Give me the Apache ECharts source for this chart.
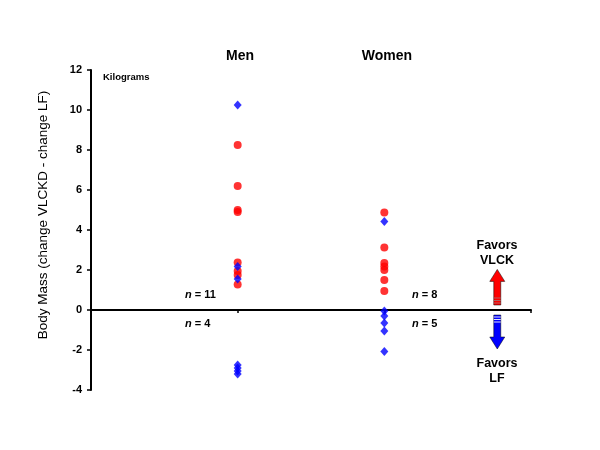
<!DOCTYPE html>
<html>
<head>
<meta charset="utf-8">
<script src="https://cdn.jsdelivr.net/npm/echarts@6/dist/echarts.min.js"></script>
<style>html,body{margin:0;padding:0;background:#fff;}#c{width:600px;height:450px;}</style>
</head>
<body>
<div id="c"></div>
<script>
// Group positions on the value x-axis
const groupX = { Men: 1, Women: 2 };
// Men values (kg): red circles and blue diamonds
const menRed = [8.25, 6.2, 5.0, 4.9, 2.38, 1.95, 1.75, 1.28];
const menBlue = [10.25, 2.17, 1.55, -2.75, -2.9, -3.05, -3.2];
// Women values (kg)
const womenRed = [4.87, 3.13, 2.35, 2.17, 2.0, 1.5, 0.95];
const womenBlue = [4.42, -0.05, -0.3, -0.65, -1.05, -2.08];
// Arrow annotations: [x, tail, tip]
const arrowX = 2.77;
const arrowUp = [0.25, 2.03];
const arrowDown = [-0.25, -1.95];
// Y tick settings
const yMin = -4, yMax = 12, yStep = 2;

const FONT = '"Liberation Sans", Arial, sans-serif';
const chart = echarts.init(document.getElementById('c'), null, { renderer: 'canvas' });

function pts(x, arr) { return arr.map(v => [x, v]); }

function arrowRender(params, api) {
  const x = api.value(0), t = api.value(1), h = api.value(2), ci = api.value(3);
  const p0 = api.coord([x, t]);
  const p1 = api.coord([x, h]);
  const dir = p1[1] < p0[1] ? -1 : 1;
  const headLen = 12, sh = 3.5, hh = 7.5;
  const yb = p1[1] - dir * headLen;
  const cx = p0[0];
  const color = ci === 0 ? '#ff0000' : '#0000ff';
  const poly = {
    type: 'polygon',
    shape: { points: [[cx - sh, p0[1]], [cx - sh, yb], [cx - hh, yb], [cx, p1[1]], [cx + hh, yb], [cx + sh, yb], [cx + sh, p0[1]]] },
    style: { fill: color, stroke: '#000', lineWidth: 0.5 }
  };
  const stripes = [2, 4.5, 7].map(o => ({
    type: 'line',
    shape: { x1: cx - sh, y1: p0[1] + dir * o, x2: cx + sh, y2: p0[1] + dir * o },
    style: { stroke: ci === 0 ? '#b06060' : '#e0e0ff', lineWidth: 1 }
  }));
  return { type: 'group', children: [poly].concat(stripes) };
}

chart.setOption({
  animation: false,
  backgroundColor: '#fff',
  grid: { left: 91, right: 69, top: 70, bottom: 60 },
  xAxis: {
    type: 'value', min: 0, max: 3,
    axisLine: { onZero: true, lineStyle: { color: '#000', width: 2 } },
    axisTick: { show: true, customValues: [1, 2, 3], length: 3, lineStyle: { color: '#000', width: 1.5 } },
    axisLabel: { show: false },
    splitLine: { show: false }
  },
  yAxis: {
    type: 'value', min: yMin, max: yMax, interval: yStep,
    axisLine: { show: true, onZero: false, lineStyle: { color: '#000', width: 2 } },
    axisTick: { show: true, length: 4, lineStyle: { color: '#000', width: 1.5 } },
    axisLabel: { color: '#000', fontFamily: FONT, fontWeight: 'bold', fontSize: 11, margin: 9 },
    splitLine: { show: false }
  },
  series: [
    { type: 'scatter', symbol: 'circle', symbolSize: 8, itemStyle: { color: '#ff0000' }, data: pts(groupX.Men, menRed), z: 3 },
    { type: 'scatter', symbol: 'circle', symbolSize: 8, itemStyle: { color: '#ff0000' }, data: pts(groupX.Women, womenRed), z: 3 },
    { type: 'scatter', symbol: 'diamond', symbolSize: [8, 9], itemStyle: { color: '#0000ff' }, data: pts(groupX.Men, menBlue), z: 4 },
    { type: 'scatter', symbol: 'diamond', symbolSize: [8, 9], itemStyle: { color: '#0000ff' }, data: pts(groupX.Women, womenBlue), z: 4 },
    { type: 'custom', renderItem: arrowRender, data: [[arrowX, arrowUp[0], arrowUp[1], 0], [arrowX, arrowDown[0], arrowDown[1], 1]], z: 5, silent: true }
  ],
  graphic: [
    { type: 'text', x: 240, y: 56, style: { text: 'Men', font: 'bold 14px ' + FONT, fill: '#000', align: 'center', verticalAlign: 'middle' } },
    { type: 'text', x: 387, y: 56, style: { text: 'Women', font: 'bold 14px ' + FONT, fill: '#000', align: 'center', verticalAlign: 'middle' } },
    { type: 'text', x: 103, y: 77, style: { text: 'Kilograms', font: 'bold 9.5px ' + FONT, fill: '#000', align: 'left', verticalAlign: 'middle' } },
    { type: 'text', x: 43, y: 215, rotation: Math.PI / 2, style: { text: 'Body Mass (change VLCKD - change LF)', font: '13.5px ' + FONT, fill: '#000', align: 'center', verticalAlign: 'middle' } },
    { type: 'text', x: 185, y: 295, style: { text: '{i|n} = 11', rich: { i: { fontStyle: 'italic', fontWeight: 'bold', fontSize: 11, fontFamily: FONT } }, font: 'bold 11px ' + FONT, fill: '#000', verticalAlign: 'middle' } },
    { type: 'text', x: 185, y: 324, style: { text: '{i|n} = 4', rich: { i: { fontStyle: 'italic', fontWeight: 'bold', fontSize: 11, fontFamily: FONT } }, font: 'bold 11px ' + FONT, fill: '#000', verticalAlign: 'middle' } },
    { type: 'text', x: 412, y: 295, style: { text: '{i|n} = 8', rich: { i: { fontStyle: 'italic', fontWeight: 'bold', fontSize: 11, fontFamily: FONT } }, font: 'bold 11px ' + FONT, fill: '#000', verticalAlign: 'middle' } },
    { type: 'text', x: 412, y: 324, style: { text: '{i|n} = 5', rich: { i: { fontStyle: 'italic', fontWeight: 'bold', fontSize: 11, fontFamily: FONT } }, font: 'bold 11px ' + FONT, fill: '#000', verticalAlign: 'middle' } },
    { type: 'text', x: 497, y: 253, style: { text: 'Favors\nVLCK', font: 'bold 12.5px ' + FONT, lineHeight: 15, fill: '#000', align: 'center', verticalAlign: 'middle' } },
    { type: 'text', x: 497, y: 371, style: { text: 'Favors\nLF', font: 'bold 12.5px ' + FONT, lineHeight: 15, fill: '#000', align: 'center', verticalAlign: 'middle' } }
  ]
});
</script>
</body>
</html>
